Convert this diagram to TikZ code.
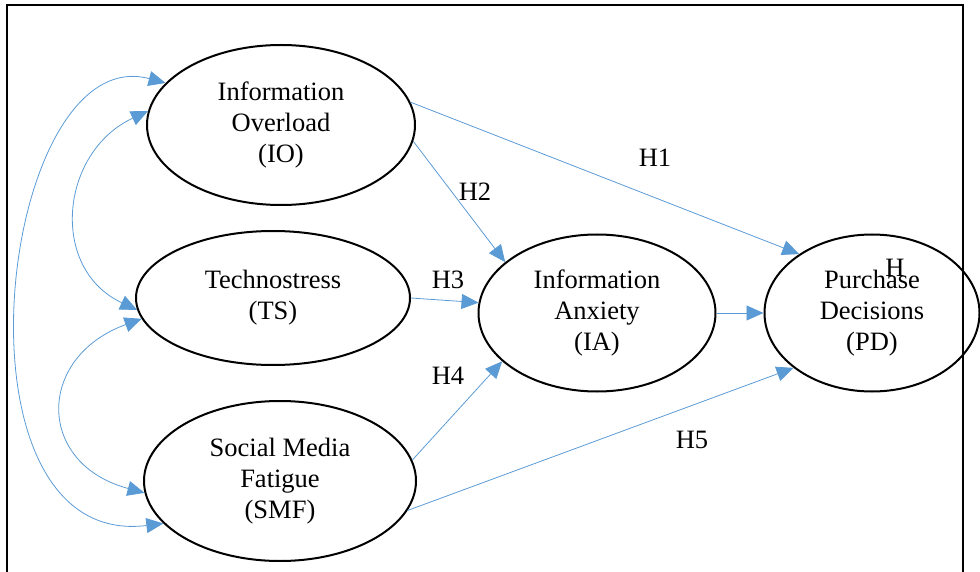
\documentclass[tikz,border=0pt]{standalone}
\usepackage{fontspec}
\setmainfont{Liberation Serif}
\usepackage{tikz}
\usetikzlibrary{shapes.geometric, arrows.meta}
\definecolor{linkblue}{RGB}{91,155,213}
\tikzset{
  var/.style={draw, ellipse, line width=2pt, inner sep=0pt, align=center},
  link/.style={draw=linkblue, line width=0.8pt},
}

\begin{document}
\begin{tikzpicture}[x=1pt, y=1pt, >={Triangle[length=17pt, width=15pt]},
  font=\fontsize{26.5}{31}\selectfont]

    \useasboundingbox (0,0) rectangle (980,-572);
    \draw[line width=2.8pt] (7,-580) -- (7,-5) -- (963,-5) -- (963,-580);

    \draw(281,-125) node[var, minimum width=268, minimum height=160] (io) {Information\\Overload\\(IO)};
    \draw(273,-298) node[var, minimum width=274, minimum height=134] (ts) {Technostress\\(TS)};
    \draw(280,-481) node[var, minimum width=272, minimum height=160] (smf) {Social Media\\Fatigue\\(SMF)};
    \draw(597,-313) node[var, minimum width=237, minimum height=157] (ia) {Information\\Anxiety\\(IA)};
    \draw(872,-313) node[var, minimum width=215, minimum height=157] (pd) {Purchase\\Decisions\\(PD)};

    \draw[link, ->] (io.10) -- (pd.141);
    \draw[link, ->] (io.-7) -- (ia.151);
    \draw[link, ->] (ts.east) -- (ia.175);
    \draw[link, ->] (smf.9) -- (ia.207);
    \draw[link, ->] (smf.-13) -- (pd.215);
    \draw[link, ->] (ia.east) -- (pd.west);

    \draw[link, <->] (io.160) to[out=165, in=187, out looseness=1.0, in looseness=1.3] (smf.200);
    \draw[link, <->] (io.174) to[out=205, in=155, looseness=1.25] (ts.185);
    \draw[link, <->] (ts.189) to[out=200, in=165, looseness=1.65] (smf.185);

    \draw(655,-158) node (h1) {H1};
    \draw(475,-192) node (h2) {H2};
    \draw(448,-280) node (h3) {H3};
    \draw(448,-376) node (h4) {H4};
    \draw(692,-440) node (h5) {H5};
    \draw(895,-268) node (h6) {H};

\end{tikzpicture}
\end{document}
